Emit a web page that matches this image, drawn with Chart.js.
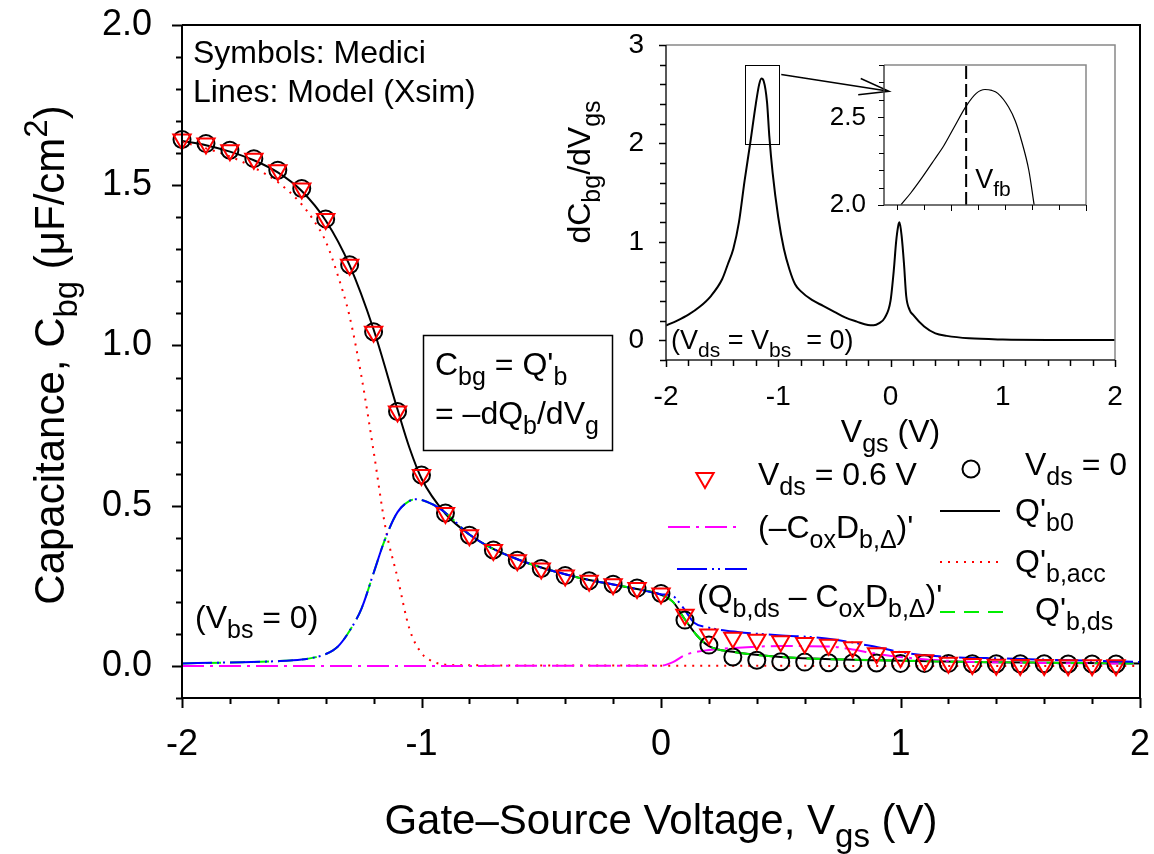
<!DOCTYPE html>
<html>
<head>
<meta charset="utf-8">
<script src="https://cdn.jsdelivr.net/npm/chart.js@4.4.1/dist/chart.umd.min.js"></script>
<style>
  html, body { margin: 0; padding: 0; background: #fff; }
  #wrap { position: relative; width: 1154px; height: 854px; }
  canvas { position: absolute; }
</style>
</head>
<body>
<div id="wrap">
  <canvas id="cMain" width="1154" height="854"></canvas>
  <canvas id="cInset" width="614" height="460"></canvas>
  <canvas id="cZoom" width="300" height="220"></canvas>
</div>
<script>
const FONT = "'Liberation Sans', Arial, Helvetica, sans-serif";

// ---- main plot: Medici symbols ----
const symX = [-2.0, -1.9, -1.8, -1.7, -1.6, -1.5, -1.4, -1.3, -1.2, -1.1, -1.0, -0.9, -0.8, -0.7, -0.6, -0.5, -0.4, -0.3, -0.2, -0.1,
              0.0, 0.1, 0.2, 0.3, 0.4, 0.5, 0.6, 0.7, 0.8, 0.9, 1.0, 1.1, 1.2, 1.3, 1.4, 1.5, 1.6, 1.7, 1.8, 1.9];
const cbgVds0 = [1.643, 1.630, 1.609, 1.583, 1.547, 1.490, 1.395, 1.252, 1.043, 0.794, 0.596, 0.477, 0.408, 0.362, 0.330, 0.304, 0.282, 0.266, 0.255, 0.243,
                 0.226, 0.143, 0.065, 0.028, 0.018, 0.013, 0.012, 0.010, 0.009, 0.009, 0.008, 0.008, 0.008, 0.007, 0.007, 0.007, 0.007, 0.006, 0.006, 0.006];
const cbgVds06 = [1.643, 1.630, 1.609, 1.583, 1.547, 1.490, 1.395, 1.252, 1.043, 0.794, 0.596, 0.477, 0.408, 0.362, 0.330, 0.304, 0.282, 0.266, 0.255, 0.243,
                  0.226, 0.160, 0.098, 0.088, 0.082, 0.077, 0.072, 0.066, 0.058, 0.040, 0.028, 0.018, 0.010, 0.006, 0.004, 0.003, 0.003, 0.002, 0.002, 0.002];

// ---- main plot: model lines (Xsim) ----
const xQb0 = [-2.0, -1.9, -1.8, -1.7, -1.6, -1.5, -1.4, -1.3, -1.2, -1.1, -1.05, -1.0, -0.9, -0.8, -0.7, -0.6, -0.5, -0.4, -0.3, -0.2, -0.1,
              0.0, 0.05, 0.1, 0.15, 0.2, 0.3, 0.5, 0.9, 1.3, 2.0];
const qb0 = [1.638, 1.625, 1.605, 1.578, 1.540, 1.482, 1.390, 1.250, 1.050, 0.800, 0.680, 0.585, 0.475, 0.410, 0.365, 0.333, 0.307, 0.286, 0.268, 0.254, 0.240,
             0.222, 0.200, 0.145, 0.095, 0.062, 0.044, 0.028, 0.018, 0.0125, 0.0075];

const xAcc = [-2.0, -1.9, -1.8, -1.7, -1.6, -1.5, -1.45, -1.4, -1.35, -1.3, -1.25, -1.2, -1.15, -1.1, -1.05, -1.0, -0.95, -0.9, -0.8, 0.0, 1.0, 2.0];
const qAcc = [1.635, 1.615, 1.590, 1.555, 1.510, 1.440, 1.390, 1.325, 1.220, 1.090, 0.900, 0.670, 0.430, 0.275, 0.115, 0.040, 0.013, 0.004, 0.002, 0.001, 0.0, 0.0];

const xDs = [-2.0, -1.8, -1.6, -1.5, -1.45, -1.4, -1.35, -1.3, -1.25, -1.2, -1.15, -1.1, -1.05, -1.02, -0.95, -0.9, -0.8, -0.7, -0.6, -0.5, -0.4, -0.3, -0.2, -0.1,
             0.0, 0.05, 0.1, 0.15, 0.2, 0.3, 0.5, 0.9, 1.3, 2.0];
const qDs = [0.008, 0.011, 0.015, 0.020, 0.026, 0.037, 0.060, 0.110, 0.180, 0.290, 0.400, 0.480, 0.515, 0.520, 0.503, 0.478, 0.410, 0.365, 0.333, 0.307, 0.286, 0.268, 0.254, 0.240,
             0.222, 0.200, 0.145, 0.095, 0.062, 0.044, 0.028, 0.018, 0.0125, 0.0075];

const xDsDelta = [-2.0, -1.8, -1.6, -1.5, -1.45, -1.4, -1.35, -1.3, -1.25, -1.2, -1.15, -1.1, -1.05, -1.02, -0.95, -0.9, -0.8, -0.7, -0.6, -0.5, -0.4, -0.3, -0.2, -0.1,
                  0.0, 0.05, 0.09, 0.14, 0.19, 0.32, 0.49, 0.69, 0.88, 1.02, 1.16, 1.44, 2.0];
const qDsDelta = [0.008, 0.011, 0.015, 0.020, 0.026, 0.037, 0.060, 0.110, 0.180, 0.290, 0.400, 0.480, 0.515, 0.520, 0.503, 0.478, 0.410, 0.365, 0.333, 0.307, 0.286, 0.268, 0.254, 0.240,
                  0.224, 0.218, 0.184, 0.134, 0.121, 0.106, 0.096, 0.086, 0.062, 0.041, 0.030, 0.023, 0.0125];

const xDelta = [-2.0, 0.0, 0.05, 0.1, 0.15, 0.2, 0.3, 0.5, 0.7, 0.8, 0.9, 1.0, 1.2, 1.5, 2.0];
const qDelta = [0.0, 0.001, 0.012, 0.034, 0.044, 0.050, 0.056, 0.062, 0.061, 0.051, 0.038, 0.028, 0.016, 0.010, 0.0075];

// ---- inset: dCbg/dVgs at Vds = Vbs = 0 ----
const xDer = [-2.0, -1.9, -1.8, -1.7, -1.6, -1.5, -1.45, -1.4, -1.35, -1.3, -1.25, -1.2, -1.17, -1.15, -1.13, -1.1, -1.08, -1.05, -1.0, -0.95, -0.9, -0.85, -0.8,
              -0.7, -0.6, -0.5, -0.4, -0.3, -0.2, -0.15, -0.1, -0.05, 0.0, 0.03, 0.05, 0.07, 0.08, 0.1, 0.12, 0.14, 0.17, 0.2, 0.3, 0.4, 0.5, 0.7, 1.0, 1.5, 2.0];
const dDer = [0.15, 0.20, 0.26, 0.34, 0.45, 0.62, 0.77, 0.93, 1.20, 1.62, 2.00, 2.40, 2.60, 2.66, 2.635, 2.42, 2.08, 1.70, 1.25, 0.93, 0.72, 0.57, 0.50,
              0.41, 0.35, 0.29, 0.23, 0.19, 0.155, 0.152, 0.175, 0.23, 0.40, 0.72, 1.00, 1.17, 1.20, 1.05, 0.78, 0.45, 0.31, 0.26, 0.14, 0.07, 0.045, 0.02, 0.008, 0.003, 0.002];

// ---- zoomed peak ----
const xPeak = [-1.275, -1.26, -1.243, -1.225, -1.211, -1.195, -1.178, -1.163, -1.15, -1.14, -1.131, -1.115, -1.105, -1.096, -1.085, -1.077];
const dPeak = [2.00, 2.07, 2.159, 2.26, 2.34, 2.45, 2.565, 2.638, 2.66, 2.655, 2.638, 2.56, 2.48, 2.37, 2.20, 2.00];
const vfb = -1.178;

// ---- axes ----
const mainXMajor = [-2, -1, 0, 1, 2];
const mainYMajor = [0.0, 0.5, 1.0, 1.5, 2.0];
const insetXMajor = [-2, -1, 0, 1, 2];
const insetYMajor = [0, 1, 2, 3];
const zoomXMajor = [-1.2, -1.0];
const zoomYMajor = [2.0, 2.5];
const zoomLim = { xMin: -1.3, xMax: -1.0, yMin: 2.0, yMax: 2.8 };

const INSET_POS = { left: 540, top: 0 };
const ZOOM_POS = { left: 800, top: 40 };

function range(a, b, step) {
  const out = [];
  const n = Math.round((b - a) / step);
  for (let i = 0; i <= n; i++) out.push(+(a + i * step).toFixed(4));
  return out;
}
function isIn(list, v) { return list.some(m => Math.abs(m - v) < 1e-6); }
function pts(xs, ys) { return xs.map((x, i) => ({ x: x, y: ys[i] })); }

// text with sub/superscripts: parts = [[text, ''|'sub'|'sup'], ...]
function rich(ctx, parts, x, y, size, align) {
  const f = k => (k ? Math.round(size * 0.78) : size) + 'px ' + FONT;
  let w = 0;
  parts.forEach(p => { ctx.font = f(p[1]); w += ctx.measureText(p[0]).width; });
  let cx = align === 'center' ? x - w / 2 : (align === 'right' ? x - w : x);
  ctx.textAlign = 'left';
  ctx.textBaseline = 'alphabetic';
  parts.forEach(p => {
    ctx.font = f(p[1]);
    const dy = p[1] === 'sub' ? size * 0.3 : (p[1] === 'sup' ? -size * 0.4 : 0);
    ctx.fillText(p[0], cx, y + dy);
    cx += ctx.measureText(p[0]).width;
  });
}
function richRot(ctx, parts, x, y, size) {
  ctx.save();
  ctx.translate(x, y);
  ctx.rotate(-Math.PI / 2);
  rich(ctx, parts, 0, 0, size, 'center');
  ctx.restore();
}
function drawTicks(ctx, scale, majors, majLen, minLen, width) {
  ctx.save();
  ctx.strokeStyle = '#000';
  ctx.lineWidth = width;
  scale.ticks.forEach(t => {
    const len = isIn(majors, t.value) ? majLen : minLen;
    const p = Math.round(scale.getPixelForValue(t.value)) + 0.5;
    ctx.beginPath();
    if (scale.isHorizontal()) { ctx.moveTo(p, scale.top); ctx.lineTo(p, scale.top + len); }
    else { ctx.moveTo(scale.right, p); ctx.lineTo(scale.right - len, p); }
    ctx.stroke();
  });
  ctx.restore();
}
function frame(ctx, a, axisColor, boxColor, width) {
  ctx.save();
  ctx.lineWidth = width;
  ctx.strokeStyle = boxColor;
  ctx.beginPath();
  ctx.moveTo(a.left, a.top); ctx.lineTo(a.right, a.top); ctx.lineTo(a.right, a.bottom);
  ctx.stroke();
  ctx.strokeStyle = axisColor;
  ctx.beginPath();
  ctx.moveTo(a.left, a.top); ctx.lineTo(a.left, a.bottom); ctx.lineTo(a.right, a.bottom);
  ctx.stroke();
  ctx.restore();
}
function axis(min, max, step, majors, fmt, size, pad, fixed) {
  return {
    type: 'linear', min: min, max: max,
    afterBuildTicks: s => { s.ticks = range(min, max, step).map(v => ({ value: v })); },
    afterFit: s => {
      if (s.isHorizontal()) s.height = fixed; else s.width = fixed;
      s.paddingLeft = 0; s.paddingRight = 0; s.paddingTop = 0; s.paddingBottom = 0;
    },
    grid: { display: false, drawTicks: false },
    border: { display: false },
    ticks: {
      autoSkip: false, maxRotation: 0, padding: pad, color: '#000',
      font: { family: FONT, size: size },
      callback: v => (isIn(majors, v) ? fmt(v) : '')
    }
  };
}

document.getElementById('cZoom').style.left = ZOOM_POS.left + 'px';
document.getElementById('cZoom').style.top = ZOOM_POS.top + 'px';
document.getElementById('cInset').style.left = INSET_POS.left + 'px';
document.getElementById('cInset').style.top = INSET_POS.top + 'px';

// ---------------- zoomed peak chart ----------------
const zoomChart = new Chart(document.getElementById('cZoom'), {
  type: 'line',
  data: {
    datasets: [
      { data: pts(xPeak, dPeak), borderColor: '#000', borderWidth: 1.2, pointRadius: 0, cubicInterpolationMode: 'monotone' },
      { data: [{ x: vfb, y: zoomLim.yMin }, { x: vfb, y: zoomLim.yMax }], borderColor: '#000', borderWidth: 2, borderDash: [13, 5], pointRadius: 0 }
    ]
  },
  options: {
    responsive: false, animation: false, devicePixelRatio: 1,
    layout: { padding: { left: 0, right: 14, top: 25, bottom: 0 } },
    plugins: { legend: { display: false }, tooltip: { enabled: false } },
    scales: {
      x: axis(zoomLim.xMin, zoomLim.xMax, 0.04, zoomXMajor, v => v.toFixed(1), 26, 17, 55),
      y: axis(zoomLim.yMin, zoomLim.yMax, 0.1, zoomYMajor, v => v.toFixed(1), 26, 18, 84)
    }
  },
  plugins: [{
    id: 'zoomDeco',
    afterDraw(chart) {
      const ctx = chart.ctx, a = chart.chartArea;
      const sx = chart.scales.x, sy = chart.scales.y;
      frame(ctx, a, '#444', '#888', 1.5);
      const saved = sx.ticks;
      sx.ticks = range(-1.28, -1.0, 0.04).map(v => ({ value: v }));
      drawTicks(ctx, sx, zoomXMajor, 6, 5, 1);
      sx.ticks = saved;
      drawTicks(ctx, sy, zoomYMajor, 6, 5, 1);
      ctx.fillStyle = '#000';
      rich(ctx, [['V', ''], ['fb', 'sub']], sx.getPixelForValue(vfb) + 9, sy.getPixelForValue(2.095), 27, 'left');
    }
  }]
});

// ---------------- inset chart ----------------
const insetChart = new Chart(document.getElementById('cInset'), {
  type: 'line',
  data: {
    datasets: [
      { data: pts(xDer, dDer), borderColor: '#000', borderWidth: 2, pointRadius: 0, cubicInterpolationMode: 'monotone' }
    ]
  },
  options: {
    responsive: false, animation: false, devicePixelRatio: 1,
    layout: { padding: { left: 0, right: 39, top: 45, bottom: 0 } },
    plugins: { legend: { display: false }, tooltip: { enabled: false } },
    scales: {
      x: axis(-2, 2, 0.2, insetXMajor, v => String(v), 28, 20, 100),
      y: axis(-0.2, 3, 0.2, insetYMajor, v => String(v), 28, 22, 126)
    }
  },
  plugins: [{
    id: 'insetDeco',
    afterDraw(chart) {
      const ctx = chart.ctx, a = chart.chartArea;
      const sx = chart.scales.x, sy = chart.scales.y;
      frame(ctx, a, '#222', '#888', 1.5);
      drawTicks(ctx, sx, insetXMajor, 7, 6, 1.5);
      drawTicks(ctx, sy, insetYMajor, 7, 6, 1.5);
      ctx.fillStyle = '#000';
      rich(ctx, [['(V', ''], ['ds', 'sub'], [' = V', ''], ['bs', 'sub'], ['  = 0)', '']], a.left + 5, sy.getPixelForValue(0) + 9, 27, 'left');
      rich(ctx, [['V', ''], ['gs', 'sub'], [' (V)', '']], (a.left + a.right) / 2, 442 - INSET_POS.top, 32, 'center');
      richRot(ctx, [['dC', ''], ['bg', 'sub'], ['/dV', ''], ['gs', 'sub']], 590 - INSET_POS.left, 172 - INSET_POS.top, 32);
      // zoom window
      const x0 = sx.getPixelForValue(zoomLim.xMin), x1 = sx.getPixelForValue(zoomLim.xMax);
      const y0 = sy.getPixelForValue(zoomLim.yMin), y1 = sy.getPixelForValue(zoomLim.yMax);
      ctx.save();
      ctx.strokeStyle = '#000';
      ctx.lineWidth = 1;
      ctx.strokeRect(Math.round(x0) + 0.5, Math.round(y1) + 0.5, Math.round(x1 - x0), Math.round(y0 - y1));
      // arrow to the zoomed plot
      const ax = x1 + 3, ay = sy.getPixelForValue(2.7);
      const bx = ZOOM_POS.left - INSET_POS.left + zoomChart.chartArea.left + 5;
      const by = ZOOM_POS.top - INSET_POS.top + zoomChart.scales.y.getPixelForValue(2.65);
      const ang = Math.atan2(by - ay, bx - ax);
      ctx.lineWidth = 1.5;
      ctx.beginPath();
      ctx.moveTo(ax, ay); ctx.lineTo(bx, by);
      ctx.moveTo(bx - 31 * Math.cos(ang - 0.27), by - 31 * Math.sin(ang - 0.27));
      ctx.lineTo(bx, by);
      ctx.lineTo(bx - 31 * Math.cos(ang + 0.27), by - 31 * Math.sin(ang + 0.27));
      ctx.stroke();
      ctx.restore();
    }
  }]
});

// ---------------- main chart ----------------
const lineSets = [
  { data: pts(xDsDelta, qDsDelta), borderColor: '#0000ff', borderDash: [30, 5, 2, 4, 2, 5] },
  { data: pts(xDs, qDs), borderColor: '#00ee00', borderDash: [15, 9] },
  { data: pts(xDelta, qDelta), borderColor: '#ff00ff', borderDash: [22, 6, 3, 6] },
  { data: pts(xAcc, qAcc), borderColor: '#ff0000', borderDash: [2, 6] },
  { data: pts(xQb0, qb0), borderColor: '#000000', borderDash: [] }
];

const mainChart = new Chart(document.getElementById('cMain'), {
  type: 'line',
  data: {
    datasets: [
      { data: pts(symX, cbgVds06), showLine: false, pointStyle: 'triangle', pointRotation: 180, pointRadius: 10,
        pointBorderColor: '#ff0000', pointBackgroundColor: 'rgba(0,0,0,0)', pointBorderWidth: 2, clip: false },
      { data: pts(symX, cbgVds0), showLine: false, pointStyle: 'circle', pointRadius: 8.5,
        pointBorderColor: '#000', pointBackgroundColor: 'rgba(0,0,0,0)', pointBorderWidth: 2, clip: false }
    ].concat(lineSets.map(s => ({
      data: s.data, borderColor: s.borderColor, borderDash: s.borderDash, borderWidth: 2,
      pointRadius: 0, cubicInterpolationMode: 'monotone'
    })))
  },
  options: {
    responsive: false, animation: false, devicePixelRatio: 1,
    layout: { padding: { left: 0, right: 14, top: 25, bottom: 0 } },
    plugins: { legend: { display: false }, tooltip: { enabled: false } },
    scales: {
      x: axis(-2, 2, 0.2, mainXMajor, v => String(v), 36, 25, 156),
      y: axis(-0.1, 2.0, 0.1, mainYMajor, v => v.toFixed(1), 36, 30, 182)
    }
  },
  plugins: [{
    id: 'mainDeco',
    afterDraw(chart) {
      const ctx = chart.ctx, a = chart.chartArea;
      frame(ctx, a, '#000', '#000', 2);
      drawTicks(ctx, chart.scales.x, mainXMajor, 10, 6, 2);
      drawTicks(ctx, chart.scales.y, mainYMajor, 10, 6, 2);
      ctx.fillStyle = '#000';
      // axis titles
      rich(ctx, [['Gate\u2013Source Voltage, V', ''], ['gs', 'sub'], [' (V)', '']], (a.left + a.right) / 2, 834, 42, 'center');
      richRot(ctx, [['Capacitance, C', ''], ['bg', 'sub'], [' (\u03bcF/cm', ''], ['2', 'sup'], [')', '']], 64, 355, 42);
      // notes
      rich(ctx, [['Symbols: Medici', '']], 193, 63, 32, 'left');
      rich(ctx, [['Lines: Model (Xsim)', '']], 193, 102, 32, 'left');
      rich(ctx, [['(V', ''], ['bs', 'sub'], [' = 0)', '']], 195, 628, 32, 'left');
      ctx.save();
      ctx.strokeStyle = '#000'; ctx.lineWidth = 1.5;
      ctx.strokeRect(423.5, 335.5, 189, 115);
      ctx.restore();
      rich(ctx, [['C', ''], ['bg', 'sub'], [' = Q\'', ''], ['b', 'sub']], 435, 375, 32, 'left');
      rich(ctx, [['= \u2013dQ', ''], ['b', 'sub'], ['/dV', ''], ['g', 'sub']], 435, 424, 32, 'left');

      // legend
      const ds = chart.data.datasets;
      const sample = (i, x0, x1, y) => {
        const d = ds[i];
        ctx.save();
        ctx.strokeStyle = d.borderColor; ctx.lineWidth = d.borderWidth || 2;
        ctx.setLineDash(d.borderDash || []);
        ctx.beginPath(); ctx.moveTo(x0, y); ctx.lineTo(x1, y); ctx.stroke();
        ctx.restore();
      };
      ctx.save();
      ctx.lineWidth = 2;
      ctx.strokeStyle = ds[0].pointBorderColor;
      const r = ds[0].pointRadius, tx = 705, ty = 478;
      ctx.beginPath();
      ctx.moveTo(tx, ty + r);
      ctx.lineTo(tx - r * Math.sin(Math.PI / 3), ty - r / 2);
      ctx.lineTo(tx + r * Math.sin(Math.PI / 3), ty - r / 2);
      ctx.closePath(); ctx.stroke();
      ctx.strokeStyle = ds[1].pointBorderColor;
      ctx.beginPath(); ctx.arc(971, 469, ds[1].pointRadius, 0, Math.PI * 2); ctx.stroke();
      ctx.restore();
      rich(ctx, [['V', ''], ['ds', 'sub'], [' = 0.6 V', '']], 758, 485, 32, 'left');
      rich(ctx, [['V', ''], ['ds', 'sub'], [' = 0', '']], 1025, 475, 32, 'left');

      sample(4, 668, 738, 527);
      rich(ctx, [['(\u2013C', ''], ['ox', 'sub'], ['D', ''], ['b,\u0394', 'sub'], [')\'', '']], 758, 538, 32, 'left');
      sample(2, 677, 747, 569);
      rich(ctx, [['(Q', ''], ['b,ds', 'sub'], [' \u2013 C', ''], ['ox', 'sub'], ['D', ''], ['b,\u0394', 'sub'], [')\'', '']], 697, 607, 32, 'left');
      sample(6, 940, 1000, 511);
      rich(ctx, [['Q\'', ''], ['b0', 'sub']], 1015, 521, 32, 'left');
      sample(5, 940, 1000, 562);
      rich(ctx, [['Q\'', ''], ['b,acc', 'sub']], 1015, 572, 32, 'left');
      sample(3, 940, 1008, 612);
      rich(ctx, [['Q\'', ''], ['b,ds', 'sub']], 1035, 620, 32, 'left');
    }
  }]
});
</script>
</body>
</html>
